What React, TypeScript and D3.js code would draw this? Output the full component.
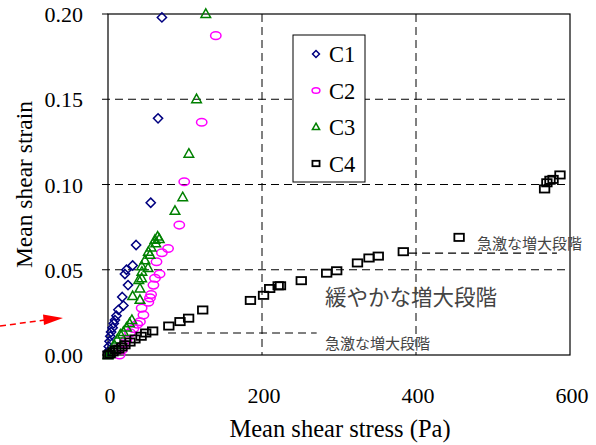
import React from 'react';
import * as d3 from 'd3';

// [mean shear stress (Pa), mean shear strain]
const c1: [number, number][] = [
  [0, 0.002], [1, 0.005], [2, 0.008], [3, 0.011], [4, 0.0135], [6, 0.016], [7.5, 0.0185],
  [9, 0.0205], [11, 0.023], [13.5, 0.0265], [20, 0.029], [18.5, 0.034], [26, 0.041],
  [22, 0.0475], [24, 0.05], [32, 0.0525], [36.5, 0.0645], [55.5, 0.0893], [65, 0.1388], [70, 0.198],
];
const c2: [number, number][] = [
  [15, 0.0], [18, 0.003], [21, 0.0065], [24, 0.009], [28.6, 0.013], [33, 0.0155], [38, 0.018],
  [41.5, 0.0195], [46, 0.0235], [43.7, 0.0275], [52.4, 0.031], [54.5, 0.0335], [56, 0.0355],
  [59, 0.041], [61, 0.045], [67, 0.0475], [63, 0.0547], [70, 0.06], [78, 0.0625],
  [92.6, 0.0762], [99, 0.1016], [121.7, 0.1365], [140, 0.1873],
];
const c3: [number, number][] = [
  [0, 0.0], [3, 0.001], [5, 0.003], [8, 0.006], [12, 0.009], [16, 0.012], [20, 0.0135],
  [24, 0.016], [28, 0.0185], [31, 0.0205], [32, 0.0345], [41.5, 0.0323], [41.5, 0.039],
  [40, 0.044], [43.7, 0.045], [44, 0.0488], [43.7, 0.052], [52, 0.051], [48, 0.0555],
  [52.4, 0.0605], [54.5, 0.0587], [56, 0.063], [62, 0.0655], [61, 0.0675], [64.5, 0.0694],
  [66.6, 0.068], [87, 0.0845], [97, 0.0925], [105, 0.118], [115, 0.15], [127, 0.2],
];
const c4: [number, number][] = [
  [0, 0.0], [2.6, 0.0006], [6.5, 0.0018], [10, 0.003], [14, 0.0035], [18, 0.0047], [22, 0.006],
  [28.5, 0.0076], [35, 0.0094], [43, 0.011], [49, 0.0129], [58, 0.0141], [79, 0.017],
  [93.5, 0.0196], [104.7, 0.0216], [123, 0.0264], [185, 0.032], [202, 0.035], [210, 0.039],
  [221, 0.0406], [224, 0.0406], [251, 0.0436], [284, 0.048], [297, 0.0494], [324, 0.054],
  [339, 0.0569], [351, 0.058], [383.5, 0.0606], [456, 0.069], [567, 0.0974], [570, 0.101],
  [574, 0.1025], [578, 0.103], [587, 0.1056],
];

const xTicks = [0, 200, 400, 600];
const yTicks = [0, 0.05, 0.1, 0.15, 0.2];
const xGrid = [200, 400];
const yGrid = [0.05, 0.1, 0.15];
const legendNames = ['C1', 'C2', 'C3', 'C4'];

const W = 596;
const H = 445;
const serif = '"Liberation Serif", "Times New Roman", serif';
const jp = '"Noto Sans CJK JP", sans-serif';

const x = d3.scaleLinear().domain([0, 600]).range([108, 570]);
const y = d3.scaleLinear().domain([0, 0.2]).range([355, 14]);

const Marker = ({ kind, cx, cy, s = 1 }: { kind: number; cx: number; cy: number; s?: number }) => {
  if (kind === 0) {
    const r = 4.6 * s;
    return <path d={`M${cx},${cy - r}L${cx + r},${cy}L${cx},${cy + r}L${cx - r},${cy}Z`} fill="none" stroke="#000080" strokeWidth={1.5} />;
  }
  if (kind === 1) {
    return <ellipse cx={cx} cy={cy} rx={5.2 * s} ry={3.8 * s} fill="none" stroke="#ff00ff" strokeWidth={1.5} />;
  }
  if (kind === 2) {
    const w = 4.8 * s, h = 8.5 * s;
    return <path d={`M${cx},${cy - h * 0.6}L${cx + w},${cy + h * 0.4}L${cx - w},${cy + h * 0.4}Z`} fill="none" stroke="#008000" strokeWidth={1.5} />;
  }
  const w = 9.5 * s, h = 7.2 * s;
  return <rect x={cx - w / 2} y={cy - h / 2} width={w} height={h} fill="none" stroke="#000" strokeWidth={1.8} />;
};

export default function App() {
  const series = [c1, c2, c3, c4];
  return (
    <svg width={W} height={H} style={{ position: 'absolute', left: 0, top: 0, background: '#fff' }}>
      {/* grid */}
      {yGrid.map((v) => (
        <line key={'gy' + v} x1={x(0) - 6} x2={x(600)} y1={y(v)} y2={y(v)} stroke="#000" strokeDasharray="8,5" />
      ))}
      {xGrid.map((v) => (
        <line key={'gx' + v} x1={x(v)} x2={x(v)} y1={y(0.2)} y2={y(0)} stroke="#000" strokeDasharray="8,5" />
      ))}
      <rect x={x(0)} y={y(0.2)} width={x(600) - x(0)} height={y(0) - y(0.2)} fill="none" stroke="#000" strokeWidth={1.2} />
      <line x1={x(0) - 6} x2={x(0)} y1={y(0.2)} y2={y(0.2)} stroke="#000" />
      <line x1={x(0) - 6} x2={x(0)} y1={y(0)} y2={y(0)} stroke="#000" />

      {/* annotations */}
      <line x1={x(78)} x2={x(271)} y1={y(0.0129)} y2={y(0.0129)} stroke="#000" strokeDasharray="8,5" strokeWidth={1.2} />
      <line x1={x(391)} x2={x(583)} y1={y(0.0598)} y2={y(0.0598)} stroke="#000" strokeDasharray="8,5" strokeWidth={1.2} />
      <text x={325} y={349} fontFamily={jp} fontSize={15} fill="#444">急激な増大段階</text>
      <text x={477} y={249} fontFamily={jp} fontSize={15} fill="#444">急激な増大段階</text>
      <text x={325} y={305} fontFamily={jp} fontSize={21.5} fill="#444">緩やかな増大段階</text>

      {/* data */}
      {series.map((d, k) => (
        <g key={'s' + k}>
          {d.map((p, i) => (
            <Marker key={i} kind={k} cx={x(p[0])} cy={y(p[1])} />
          ))}
        </g>
      ))}

      {/* legend */}
      <rect x={293} y={35} width={72} height={147} fill="#fff" stroke="#000" strokeWidth={1} />
      {legendNames.map((n, i) => (
        <g key={n}>
          <Marker kind={i} cx={316} cy={54 + i * 36.5} s={0.75} />
          <text x={329} y={54 + i * 36.5 + 8} fontFamily={serif} fontSize={22.5}>{n}</text>
        </g>
      ))}

      {/* axes labels */}
      {yTicks.map((v) => (
        <text key={'yt' + v} x={83} y={y(v) + 8} textAnchor="end" fontFamily={serif} fontSize={22}>
          {v.toFixed(2)}
        </text>
      ))}
      {xTicks.map((v) => (
        <text key={'xt' + v} x={x(v) + 2} y={403} textAnchor="middle" fontFamily={serif} fontSize={22}>
          {v}
        </text>
      ))}
      <text x={340} y={437} textAnchor="middle" fontFamily={serif} fontSize={24.5}>Mean shear stress (Pa)</text>
      <text transform={`translate(32,${(y(0) + y(0.2)) / 2}) rotate(-90)`} textAnchor="middle" fontFamily={serif} fontSize={23.5}>
        Mean shear strain
      </text>

      {/* red arrow */}
      <line x1={0} y1={326} x2={45} y2={320} stroke="#ff0000" strokeWidth={1.5} strokeDasharray="6,4" />
      <path d="M43,314.5L63,318L44,325Z" fill="#ff0000" />
    </svg>
  );
}
